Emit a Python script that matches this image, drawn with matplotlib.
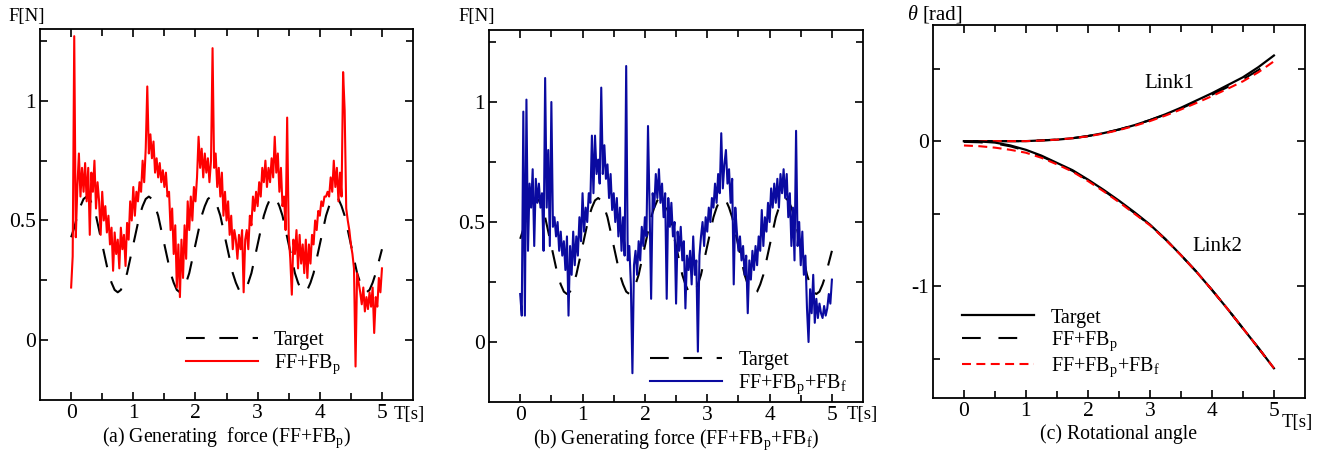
# --- External ---
import numpy as np
import matplotlib
matplotlib.use('Agg')
import matplotlib.pyplot as plt
from matplotlib.ticker import FixedLocator

plt.rcParams['font.family'] = ['Liberation Serif', 'DejaVu Serif']
plt.rcParams['mathtext.fontset'] = 'custom'
plt.rcParams['mathtext.rm'] = 'Liberation Serif'
plt.rcParams['mathtext.it'] = 'Liberation Serif:italic'

# === Data ===
# force signals sampled every 0.025 s, target every 0.05 s, angles every 0.25 s
TARGET_F = [
    0.43, 0.47, 0.52, 0.56, 0.59, 0.60, 0.59, 0.56, 0.52, 0.46,
    0.40, 0.34, 0.28, 0.24, 0.21, 0.20, 0.21, 0.24, 0.28, 0.34,
    0.40, 0.46, 0.52, 0.56, 0.59, 0.60, 0.59, 0.56, 0.52, 0.46,
    0.40, 0.34, 0.28, 0.24, 0.21, 0.20, 0.21, 0.24, 0.28, 0.34,
    0.40, 0.46, 0.52, 0.56, 0.59, 0.60, 0.59, 0.56, 0.52, 0.46,
    0.40, 0.34, 0.28, 0.24, 0.21, 0.20, 0.21, 0.24, 0.28, 0.34,
    0.40, 0.46, 0.52, 0.56, 0.59, 0.60, 0.59, 0.56, 0.52, 0.46,
    0.40, 0.34, 0.28, 0.24, 0.21, 0.20, 0.21, 0.24, 0.28, 0.34,
    0.40, 0.46, 0.52, 0.56, 0.59, 0.60, 0.59, 0.56, 0.52, 0.46,
    0.40, 0.34, 0.28, 0.24, 0.21, 0.20, 0.21, 0.24, 0.28, 0.33,
    0.38,
]

FORCE_FB_P = [
    0.22, 0.35, 1.27, 0.43, 0.64, 0.78, 0.60, 0.72, 0.62, 0.74,
    0.58, 0.72, 0.44, 0.70, 0.62, 0.75, 0.55, 0.66, 0.58, 0.44,
    0.62, 0.50, 0.56, 0.45, 0.52, 0.40, 0.47, 0.29, 0.45, 0.36,
    0.42, 0.30, 0.47, 0.38, 0.44, 0.31, 0.49, 0.42, 0.58, 0.50,
    0.64, 0.52, 0.62, 0.58, 0.66, 0.62, 0.75, 0.66, 0.80, 1.06,
    0.78, 0.86, 0.76, 0.83, 0.70, 0.76, 0.68, 0.74, 0.66, 0.71,
    0.64, 0.70, 0.60, 0.62, 0.46, 0.55, 0.36, 0.48, 0.22, 0.40,
    0.18, 0.42, 0.26, 0.48, 0.34, 0.58, 0.46, 0.60, 0.50, 0.64,
    0.58, 0.68, 0.85, 0.72, 0.80, 0.68, 0.78, 0.70, 0.76, 0.66,
    0.75, 1.22, 0.72, 0.78, 0.64, 0.72, 0.60, 0.70, 0.52, 0.62,
    0.50, 0.58, 0.44, 0.52, 0.38, 0.46, 0.42, 0.34, 0.44, 0.38,
    0.46, 0.20, 0.42, 0.46, 0.38, 0.52, 0.48, 0.60, 0.54, 0.62,
    0.56, 0.66, 0.60, 0.72, 0.66, 0.75, 0.64, 0.72, 0.66, 0.76,
    0.68, 0.85, 0.70, 0.78, 0.62, 0.72, 0.56, 0.60, 0.46, 0.93,
    0.44, 0.34, 0.19, 0.42, 0.36, 0.46, 0.30, 0.44, 0.32, 0.40,
    0.28, 0.42, 0.26, 0.40, 0.32, 0.44, 0.40, 0.50, 0.46, 0.54,
    0.52, 0.58, 0.56, 0.60, 0.60, 0.62, 0.60, 0.68, 0.62, 0.75,
    0.64, 0.72, 0.58, 0.70, 0.60, 1.12, 0.96, 0.55, 0.50, 0.46,
    0.40, 0.36, 0.30, -0.11, 0.28, 0.24, 0.20, 0.15, 0.22, 0.12,
    0.18, 0.13, 0.20, 0.14, 0.22, 0.03, 0.18, 0.14, 0.26, 0.20,
    0.30,
]

FORCE_FB_PF = [
    0.20, 0.11, 0.96, 0.11, 1.01, 0.38, 0.66, 0.56, 0.72, 0.40,
    0.68, 0.58, 0.66, 0.56, 0.62, 0.38, 1.10, 0.56, 0.80, 0.40,
    1.00, 0.48, 0.52, 0.44, 0.50, 0.38, 0.46, 0.36, 0.42, 0.30,
    0.44, 0.11, 0.40, 0.28, 0.46, 0.32, 0.44, 0.36, 0.52, 0.42,
    0.62, 0.46, 0.56, 0.50, 0.62, 0.58, 0.86, 0.62, 0.86, 0.70,
    0.76, 0.66, 1.06, 0.70, 0.82, 0.68, 0.74, 0.60, 0.70, 0.55,
    0.62, 0.50, 0.60, 0.44, 0.56, 0.38, 0.52, 0.36, 1.15, 0.34,
    0.40, 0.24, -0.13, 0.32, 0.38, 0.28, 0.42, 0.34, 0.48, 0.40,
    0.52, 0.44, 0.90, 0.56, 0.18, 0.62, 0.56, 0.70, 0.60, 0.72,
    0.58, 0.66, 0.52, 0.62, 0.18, 0.60, 0.48, 0.58, 0.44, 0.50,
    0.16, 0.46, 0.38, 0.48, 0.34, 0.42, 0.14, 0.36, 0.30, 0.38,
    0.24, 0.44, 0.28, 0.34, -0.04, 0.36, 0.44, 0.50, 0.40, 0.52,
    0.46, 0.56, 0.50, 0.60, 0.56, 0.66, 0.58, 0.70, 0.62, 0.87,
    0.64, 0.74, 0.80, 0.66, 0.72, 0.58, 0.68, 0.24, 0.56, 0.46,
    0.38, 0.44, 0.34, 0.40, 0.28, 0.36, 0.12, 0.34, 0.26, 0.38,
    0.30, 0.40, 0.32, 0.44, 0.38, 0.55, 0.40, 0.52, 0.46, 0.58,
    0.50, 0.64, 0.56, 0.66, 0.58, 0.68, 0.56, 0.70, 0.62, 0.72,
    0.60, 0.70, 0.52, 0.62, 0.40, 0.56, 0.34, 0.88, 0.40, 0.50,
    0.32, 0.46, 0.28, 0.36, 0.14, 0.00, 0.22, 0.12, 0.28, 0.08,
    0.18, 0.10, 0.16, 0.12, 0.10, 0.15, 0.11, 0.14, 0.20, 0.16,
    0.26,
]

LINK1_TARGET = [0.0, 0.0, 0.0, 0.0, 0.0, 0.005, 0.01, 0.02, 0.035, 0.055, 0.08,
                0.11, 0.145, 0.185, 0.23, 0.28, 0.33, 0.385, 0.44, 0.51, 0.59]
LINK1_FB_P = [0.0, 0.0, 0.0, 0.0, 0.0, 0.005, 0.01, 0.02, 0.035, 0.055, 0.08,
              0.11, 0.145, 0.183, 0.225, 0.272, 0.32, 0.372, 0.425, 0.49, 0.565]
LINK1_FB_PF = [0.0, 0.0, 0.0, 0.0, 0.0, 0.004, 0.01, 0.02, 0.033, 0.052, 0.076,
               0.105, 0.138, 0.176, 0.218, 0.263, 0.31, 0.36, 0.412, 0.475, 0.55]
LINK2_TARGET = [0.0, -0.002, -0.01, -0.03, -0.06, -0.10, -0.15, -0.20, -0.265, -0.335, -0.41,
                -0.49, -0.575, -0.675, -0.785, -0.90, -1.025, -1.155, -1.29, -1.425, -1.565]
LINK2_FB_P = [-0.005, -0.008, -0.016, -0.036, -0.066, -0.105, -0.154, -0.205, -0.27, -0.34, -0.415,
              -0.495, -0.578, -0.677, -0.786, -0.90, -1.025, -1.155, -1.29, -1.425, -1.565]
LINK2_FB_PF = [-0.03, -0.035, -0.045, -0.06, -0.08, -0.115, -0.16, -0.21, -0.275, -0.345, -0.42,
               -0.50, -0.58, -0.678, -0.786, -0.90, -1.025, -1.155, -1.29, -1.425, -1.565]

X_TICKS = [0, 1, 2, 3, 4, 5]
X_LABELS = ['0', '1', '2', '3', '4', '5']
F_TICKS = [0, 0.5, 1]
F_LABELS = ['0', '0.5', '1']
THETA_TICKS = [-1, 0]
THETA_LABELS = ['-1', '0']

FS = 13.5        # axis names F[N], T[s]
FS_TICK = 15.5
FS_LEG = 14.5
FS_TITLE = 14.2
BLUE = '#0a0aa0'
TARGET_DASH = (0, (9, 7))


def style_axes(ax, ylim, yticks, ylabels, yminor):
    ax.set_xlim(-0.5, 5.5)
    ax.set_ylim(*ylim)
    ax.set_xticks(X_TICKS)
    ax.set_xticklabels(X_LABELS, fontsize=FS_TICK)
    ax.xaxis.set_minor_locator(FixedLocator([0.5, 1.5, 2.5, 3.5, 4.5]))
    ax.set_yticks(yticks)
    ax.set_yticklabels(ylabels, fontsize=FS_TICK)
    ax.yaxis.set_minor_locator(FixedLocator(yminor))
    ax.tick_params(which='both', direction='in', top=True, right=True,
                   width=1.2, pad=3)
    ax.tick_params(which='major', length=6)
    ax.tick_params(which='minor', length=5)
    for sp in ax.spines.values():
        sp.set_linewidth(1.3)


def force_panel(ax, t, signal, color, label):
    tt = np.linspace(0, 5, len(TARGET_F))
    ax.plot(tt, TARGET_F, color='black', lw=1.5, linestyle=TARGET_DASH, label='Target')
    ax.plot(t, signal, color=color, lw=1.5, label=label)
    style_axes(ax, (-0.25, 1.3), F_TICKS, F_LABELS, [0.25, 0.75, 1.25])


def add_legend(ax, anchor):
    ax.legend(loc='lower left', bbox_to_anchor=anchor, frameon=False,
              fontsize=FS_LEG, handlelength=3.6, handletextpad=0.8,
              borderpad=0, borderaxespad=0, labelspacing=0.12)


fig = plt.figure(figsize=(13.26, 4.54), dpi=100)
ax_a = fig.add_axes([0.0302, 0.1189, 0.2813, 0.8172])
ax_b = fig.add_axes([0.3688, 0.1145, 0.2821, 0.8194])
ax_c = fig.add_axes([0.7036, 0.1233, 0.2805, 0.8216])

t_force = np.linspace(0, 5, len(FORCE_FB_P))

# === (a) ===
force_panel(ax_a, t_force, FORCE_FB_P, '#ff0000', r'FF+FB$_\mathrm{p}$')
add_legend(ax_a, (0.39, 0.065))
ax_a.set_xlabel(r'(a) Generating  force (FF+FB$_\mathrm{p}$)', fontsize=FS_TITLE, labelpad=2)

# === (b) ===
force_panel(ax_b, t_force, FORCE_FB_PF, BLUE, r'FF+FB$_\mathrm{p}$+FB$_\mathrm{f}$')
add_legend(ax_b, (0.43, 0.017))
ax_b.set_xlabel(r'(b) Generating force (FF+FB$_\mathrm{p}$+FB$_\mathrm{f}$)', fontsize=FS_TITLE, labelpad=2)

# === (c) ===
t_ang = np.linspace(0, 5, len(LINK1_TARGET))
for link, (tg, fp, fpf) in enumerate([(LINK1_TARGET, LINK1_FB_P, LINK1_FB_PF),
                                       (LINK2_TARGET, LINK2_FB_P, LINK2_FB_PF)]):
    lab = link == 0
    ax_c.plot(t_ang, tg, color='black', lw=1.6, label='Target' if lab else None)
    ax_c.plot(t_ang, fp, color='black', lw=1.5, linestyle=(0, (9, 8.5)),
              label=r'FF+FB$_\mathrm{p}$' if lab else None)
    ax_c.plot(t_ang, fpf, color='#ff0000', lw=1.5, linestyle=(0, (4.3, 2.6)),
              label=r'FF+FB$_\mathrm{p}$+FB$_\mathrm{f}$' if lab else None)
style_axes(ax_c, (-1.77, 0.8), THETA_TICKS, THETA_LABELS, [-1.5, -0.5, 0.5])
add_legend(ax_c, (0.078, 0.05))
ax_c.set_xlabel('(c) Rotational angle', fontsize=FS_TITLE, labelpad=2)
ax_c.text(3.32, 0.40, 'Link1', fontsize=15, ha='center', va='center')
ax_c.text(4.09, -0.725, 'Link2', fontsize=15, ha='center', va='center')

# === axis labels outside the frames ===
fig.text(8 / 1326, 1 - 16 / 454, 'F[N]', fontsize=FS, va='center', ha='left')
fig.text(458 / 1326, 1 - 17 / 454, 'F[N]', fontsize=FS, va='center', ha='left')
fig.text(907 / 1326, 1 - 15 / 454, r'$\theta$', fontsize=FS + 1, va='center', ha='left',
         family='DejaVu Serif', style='italic')
fig.text(923 / 1326, 1 - 15 / 454, '[rad]', fontsize=15, va='center', ha='left')
fig.text(394 / 1326, 1 - 414 / 454, 'T[s]', fontsize=FS, va='center', ha='left')
fig.text(847 / 1326, 1 - 414 / 454, 'T[s]', fontsize=FS, va='center', ha='left')
fig.text(1282 / 1326, 1 - 422 / 454, 'T[s]', fontsize=FS, va='center', ha='left')

fig.savefig('out.png', dpi=100)
